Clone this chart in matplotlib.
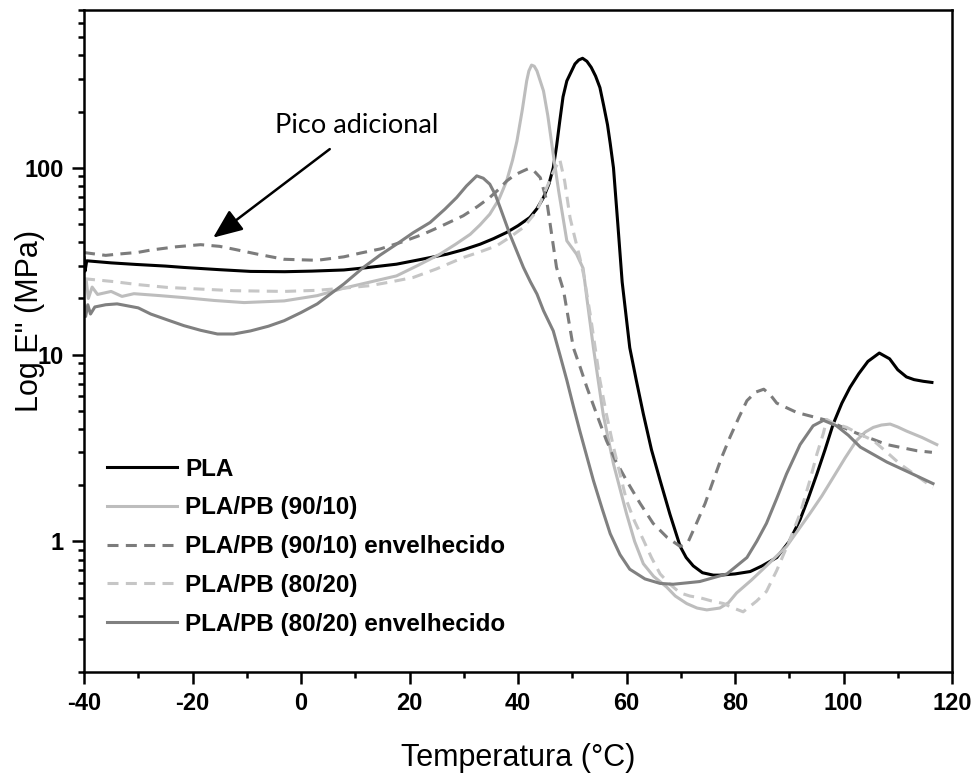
import matplotlib
matplotlib.use('Agg')
import matplotlib.pyplot as plt
from matplotlib.ticker import LogLocator, NullFormatter, FuncFormatter, MultipleLocator

# --- dados (Temperatura em °C, E'' em MPa) ---
t_pla = [-40, -39.8, -39.5, -35, -30.4, -25, -21.6, -15, -9.3, -3, 2, 7.9, 12, 17.6, 22, 26.9, 30, 33,
         35.5, 37.9, 40, 42.2, 43.5, 44.7, 45.7, 46.5, 47.1, 47.7, 48.3, 49, 50.5, 51.2, 51.9, 52.7,
         53.5, 54.3, 55.1, 55.8, 56.5, 57, 57.6, 58.4, 59.2, 60.6, 61.8, 63.1, 64.6, 66.2, 68, 69.9,
         71, 72.3, 74, 76, 77.2, 80, 82.8, 85, 87.7, 90, 92, 93.5, 95.1, 96.6, 98.1, 99.7, 101.2,
         102.8, 104.5, 106.6, 108.5, 110, 111.6, 113, 114.7, 116.3]
e_pla = [33, 28, 31.8, 31, 30.4, 29.8, 29.3, 28.5, 27.9, 27.8, 28, 28.4, 29.2, 30.5, 32.3, 34.5, 36.5, 39,
         41.8, 45.1, 49, 54.3, 60.5, 69.4, 82, 100, 130, 178, 240, 292, 360, 378, 386, 372,
         345, 310, 269, 215, 170, 135, 100, 50, 24.5, 10.9, 7.3, 4.82, 3.1, 2.12, 1.4, 0.94,
         0.82, 0.74, 0.68, 0.66, 0.66, 0.67, 0.69, 0.74, 0.82, 1.0, 1.31, 1.7, 2.3, 3.1, 4.25, 5.5, 6.68,
         7.9, 9.2, 10.2, 9.5, 8.3, 7.6, 7.35, 7.2, 7.1]

t_9010 = [-40, -39.6, -39.2, -38.5, -37.5, -35, -33, -30.8, -26, -21.6, -16, -10.5, -3.1, 3, 7.9, 12, 17.6,
          21.5, 25.6, 28.5, 31.2, 33, 34.8, 36.5, 37.9, 39, 39.8, 40.8, 41.6, 42, 42.5, 43, 43.5, 44.7,
          45.5, 46.5, 47.5, 49, 50.8, 52, 52.7, 53.9, 55.7, 57.6, 60, 61.5, 63.1, 65, 67.4, 69, 71.1,
          73, 74.8, 77.2, 78.8, 80.3, 83, 85.8, 89.5, 93.8, 96, 98.1, 100.3, 102.4, 104, 105.5, 107,
          108.6, 110, 111.6, 114.5, 117.2]
e_9010 = [22.4, 25, 20, 23, 21, 21.8, 20.5, 21.2, 20.7, 20.2, 19.5, 19.0, 19.4, 20.7, 22.7, 24.2, 26.4,
          30, 34.5, 39, 44.1, 49.5, 56.5, 68, 85, 110, 139, 205, 292, 330, 355, 350, 330, 258,
          190, 118, 75, 40.7, 34.5, 29, 20, 10.9, 4.8, 2.6, 1.41, 1.0, 0.76, 0.65, 0.57, 0.51, 0.465,
          0.44, 0.43, 0.44, 0.47, 0.53, 0.62, 0.74, 0.94, 1.41, 1.75, 2.2, 2.8, 3.47, 3.85, 4.08, 4.2,
          4.25, 4.1, 3.9, 3.6, 3.3]

t_9010_env = [-40, -36, -33.9, -30, -27.7, -23, -18.5, -15, -12.4, -8, -3.1, 3, 7.9, 11, 14.6, 18.5,
              22.5, 26, 29.9, 32.5, 34.8, 36.5, 37.9, 39.5, 41, 41.9, 43, 44.1, 45.3, 46.2, 47.1,
              48.4, 49.3, 50.2, 51.5, 52.7, 54.5, 56.3, 58, 60, 62.5, 64.9, 67.5, 69.9, 71.4, 72.9,
              74.5, 76, 77.5, 79.1, 80.7, 82.2, 83.8, 85.3, 86.5, 87.7, 91.4, 96.9, 102.4, 108,
              113.5, 116.3]
e_9010_env = [35.2, 34, 34.5, 35.3, 36.3, 37.8, 38.8, 38, 36.7, 34.5, 32.4, 32, 33.4, 35, 36.8, 40,
              44.1, 49, 55.4, 62, 69.4, 77, 85, 92, 96.4, 99, 96, 88.7, 66.6, 44.1, 29.3,
              22, 15.5, 10.9, 8.5, 6.68, 4.8, 3.47, 2.7, 2.12, 1.6, 1.25, 1.05, 0.94, 1.0, 1.25,
              1.6, 2.12, 2.8, 3.63, 4.6, 5.67, 6.3, 6.53, 6.1, 5.5, 4.9, 4.45, 3.8, 3.3,
              3.06, 3.0]

t_8020 = [-40, -34.5, -30, -24.6, -18, -12.4, -3.1, 3, 7.9, 12.7, 16.5, 20.7, 25, 29.9, 33, 36.1, 38.5,
          41, 43.5, 45.3, 46.5, 47.7, 48.6, 49.6, 50.5, 51.4, 52.2, 52.7, 53.3, 54.2, 55.1, 56.3,
          57.6, 58.8, 60, 61.5, 63.1, 64.6, 66.2, 68, 69.9, 71.7, 73.5, 75.7, 77.9, 79.7, 81.5,
          82.8, 84, 85.8, 87.7, 90.1, 92, 93.8, 95.1, 96.3, 96.9, 98.1, 100.6, 103, 105.5, 108,
          110.4, 113, 115.9, 116.5]
e_8020 = [25.5, 24.6, 23.7, 22.9, 22.4, 22, 21.8, 22.1, 22.7, 23.4, 24.5, 25.9, 28.8, 33.1, 35.5, 38.3, 42.5,
          48, 58.9, 78.5, 95, 111, 85, 54, 42, 33, 26, 21, 16.5, 11, 7.3, 4.8,
          3.2, 2.3, 1.66, 1.28, 1.02, 0.82, 0.67, 0.59, 0.53, 0.51, 0.5, 0.48, 0.465, 0.44, 0.42,
          0.45, 0.48, 0.54, 0.7, 1.02, 1.41, 2.12, 2.94, 3.8, 4.5, 4.3, 4.08, 3.75, 3.47, 3.0,
          2.6, 2.3, 2.0, 1.95]

t_8020_env = [-40, -39.7, -39.3, -38.8, -38, -36, -33.9, -30, -27.7, -24.5, -21.6, -18.5, -15.4, -12.4,
              -9.3, -6, -3.1, 0, 3, 5.3, 7.9, 11.5, 14.5, 17.6, 20.7, 23.8, 26.5, 28.7, 30.5, 32.4,
              33.6, 34.8, 35.8, 36.7, 38.5, 41, 42.3, 43.5, 44.7, 46.5, 47.8, 49, 50.2, 51.4, 53.9,
              55.5, 57, 58.8, 60.6, 63.4, 66.2, 68.6, 71.1, 73.5, 78.5, 82.2, 84, 85.8, 87.7, 89.5,
              92, 94.4, 96.3, 98.7, 100.9, 103.1, 108, 112, 116.5]
e_8020_env = [19, 16, 18.5, 16.5, 18, 18.5, 18.7, 17.8, 16.5, 15.3, 14.3, 13.5, 12.9, 12.9,
              13.4, 14.2, 15.2, 16.8, 18.7, 21, 23.9, 29.3, 34, 39, 45, 51, 60, 69.4, 80, 90.6,
              88, 81.8, 72, 61.4, 44.1, 29.3, 24.5, 21.1, 17.2, 13.4, 9.8, 7.3, 5.3, 3.9, 2.12,
              1.5, 1.1, 0.85, 0.71, 0.63, 0.596, 0.59, 0.6, 0.61, 0.67, 0.82, 1.0, 1.25, 1.7, 2.3,
              3.3, 4.16, 4.45, 4.16, 3.7, 3.2, 2.66, 2.35, 2.04]

rotulos = ['PLA', 'PLA/PB (90/10)', 'PLA/PB (90/10) envelhecido',
           'PLA/PB (80/20)', 'PLA/PB (80/20) envelhecido']

# --- figura ---
plt.rcParams['font.family'] = ['Liberation Sans', 'DejaVu Sans']
plt.rcParams['axes.unicode_minus'] = False

fig = plt.figure(figsize=(9.74, 7.73), dpi=100)
ax = fig.add_axes([84 / 974, 1 - 672 / 773, 868 / 974, 662 / 773])

tracejado = (0, (3.6, 2.4))
ax.plot(t_pla, e_pla, color='black', lw=2.2, label=rotulos[0])
ax.plot(t_9010, e_9010, color='#bdbdbd', lw=2.2, label=rotulos[1])
ax.plot(t_9010_env, e_9010_env, color='#7c7c7c', lw=2.2, ls=tracejado, label=rotulos[2])
ax.plot(t_8020, e_8020, color='#c6c6c6', lw=2.2, ls=tracejado, label=rotulos[3])
ax.plot(t_8020_env, e_8020_env, color='#808080', lw=2.2, label=rotulos[4])

ax.set_yscale('log')
ax.set_xlim(-40, 120)
ax.set_ylim(0.2, 700)

ax.xaxis.set_major_locator(MultipleLocator(20))
ax.xaxis.set_minor_locator(MultipleLocator(10))
ax.yaxis.set_major_locator(LogLocator(base=10, numticks=10))
ax.yaxis.set_minor_locator(LogLocator(base=10, subs=range(2, 10), numticks=20))
ax.yaxis.set_major_formatter(FuncFormatter(lambda v, p: f'{v:g}'))
ax.yaxis.set_minor_formatter(NullFormatter())

ax.tick_params(which='both', direction='out', width=1.8, top=False, right=False)
ax.tick_params(which='major', length=8.5, labelsize=17, pad=6)
ax.tick_params(which='minor', length=4.5)
for lab in ax.get_xticklabels() + ax.get_yticklabels():
    lab.set_fontweight('bold')
for sp in ax.spines.values():
    sp.set_linewidth(1.8)

ax.set_xlabel('Temperatura (°C)', fontsize=22, labelpad=20)
ax.set_ylabel('Log E" (MPa)', fontsize=22)
ax.yaxis.set_label_coords(-0.045, 0.53)

ax.legend(loc='upper left', bbox_to_anchor=(0.026, 0.324), frameon=False,
          prop={'weight': 'bold', 'size': 17.5}, handlelength=2.9, handletextpad=0.33,
          labelspacing=0.65, borderaxespad=0, borderpad=0)

# --- anotação ---
ax.annotate('', xy=(-16.2, 42.3), xytext=(5.3, 126),
            arrowprops=dict(arrowstyle='-|>,head_length=0.6,head_width=0.25',
                            mutation_scale=30, lw=1.8, color='black', shrinkA=0, shrinkB=0))
ax.text(10.2, 154, 'Pico adicional', fontsize=19.5, family=['Lato', 'DejaVu Sans'],
        ha='center', va='baseline')

fig.savefig('out.png', dpi=100)
